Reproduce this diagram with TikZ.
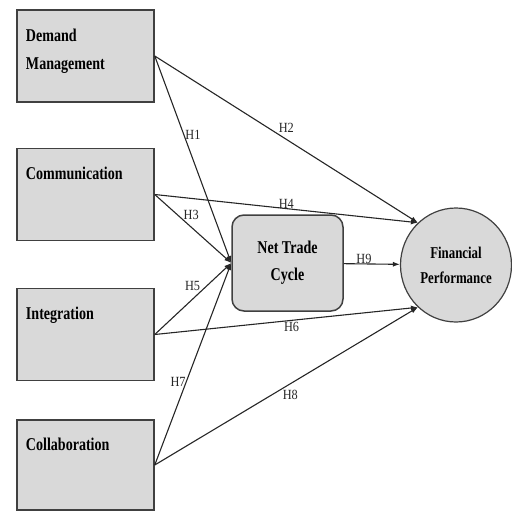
\documentclass[tikz,border=0pt]{standalone}
\usepackage{fontspec}
\setmainfont{Liberation Serif}
\newfontfamily\boxfont[FakeStretch=0.78,UprightFont={* Bold}]{Liberation Serif}
\newfontfamily\hypfont[FakeStretch=0.88]{Liberation Serif}
\usetikzlibrary{arrows.meta,shapes.geometric,positioning}

\newcommand{\toptext}[1]{\parbox[c][88pt][t]{119pt}{\vspace*{17pt}#1}}

\begin{document}
\begin{tikzpicture}[x=1pt,y=-1pt,
    construct/.style={draw=black!75, line width=1.5pt, fill=gray!30, minimum width=137pt, minimum height=92pt, inner sep=0pt, font=\boxfont\fontsize{18}{28}\selectfont},
    mediator/.style={draw=black!75, line width=1.5pt, fill=gray!30, rounded corners=12pt, minimum width=111pt, minimum height=96pt, align=center, font=\boxfont\fontsize{18}{27}\selectfont},
    outcome/.style={ellipse, draw=black!75, line width=1.2pt, fill=gray!30, minimum width=111pt, minimum height=114pt, inner sep=0pt, align=center, font=\boxfont\fontsize{16.5}{25}\selectfont},
    arr/.style={-{Latex[length=7pt,width=5pt]}, line width=1.1pt, black!85},
    hyp/.style={font=\hypfont\fontsize{14}{14}\selectfont, inner sep=1pt}
]
\useasboundingbox (0,0) rectangle (512,512);

\node[construct] (dm) at (85.5,56) {\toptext{Demand\\Management}};
\node[construct] (com) at (85.5,194.5) {\toptext{Communication}};
\node[construct] (int) at (85.5,334.5) {\toptext{Integration}};
\node[construct, minimum height=90pt] (col) at (85.5,465) {\toptext{Collaboration}};
\node[mediator] (ntc) at (287.5,263) {Net Trade\\Cycle};
\node[outcome] (fp) at (456,265) {Financial\\Performance};

\draw[arr] (dm.east) -- node[hyp, right, pos=0.38] {H1} (ntc.west);
\draw[arr] (dm.east) -- node[hyp, above=5pt, pos=0.5] {H2} (fp.132);
\draw[arr] (com.east) -- node[hyp, above right, pos=0.37, inner sep=0pt] {H3} (ntc.west);
\draw[arr] (com.east) -- node[hyp, above, pos=0.5, inner sep=0pt] {H4} (fp.132);
\draw[arr] (int.east) -- node[hyp, above left, pos=0.6, inner sep=0pt] {H5} (ntc.west);
\draw[arr] (int.east) -- node[hyp, below, pos=0.52] {H6} (fp.228);
\draw[arr] (col.east) -- node[hyp, left, pos=0.41, inner sep=0pt] {H7} (ntc.west);
\draw[arr] (col.east) -- node[hyp, below=5pt, pos=0.515] {H8} (fp.228);
\draw[arr] (ntc) -- node[hyp, above, pos=0.36, inner sep=0pt] {H9} (fp);
\end{tikzpicture}
\end{document}
